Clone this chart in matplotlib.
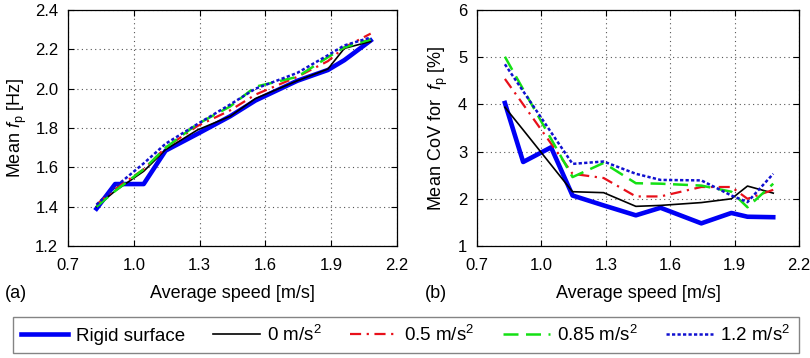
import matplotlib
matplotlib.use("Agg")
import matplotlib.pyplot as plt
import numpy as np

plt.rcParams['font.family'] = ['Liberation Sans', 'DejaVu Sans']
plt.rcParams['mathtext.fontset'] = 'custom'
plt.rcParams['mathtext.rm'] = 'Liberation Sans'
plt.rcParams['mathtext.it'] = 'Liberation Sans:italic'

# Data
speed = [0.83, 0.915, 1.045, 1.145, 1.29, 1.44, 1.555, 1.745, 1.885, 1.96, 2.08]
labels = ['Rigid surface', '0 m/s$^2$', '0.5 m/s$^2$', '0.85 m/s$^2$', '1.2 m/s$^2$']

fp_rigid = [1.39, 1.515, 1.515, 1.685, 1.77, 1.86, 1.94, 2.04, 2.095, 2.145, 2.245]
fp_0 = [1.40, 1.48, 1.58, 1.69, 1.79, 1.86, 1.95, 2.04, 2.10, 2.205, 2.24]
fp_05 = [1.41, 1.49, 1.59, 1.70, 1.81, 1.89, 1.97, 2.06, 2.14, 2.21, 2.28]
fp_085 = [1.40, 1.48, 1.59, 1.70, 1.82, 1.91, 2.01, 2.06, 2.16, 2.21, 2.25]
fp_12 = [1.41, 1.50, 1.62, 1.72, 1.82, 1.92, 2.00, 2.08, 2.17, 2.22, 2.26]

cov_rigid = [4.03, 2.78, 3.09, 2.07, 1.86, 1.65, 1.81, 1.48, 1.70, 1.62, 1.61]
cov_0 = [3.94, 3.46, 2.72, 2.15, 2.13, 1.84, 1.86, 1.92, 2.00, 2.27, 2.12]
cov_05 = [4.54, 4.00, 3.17, 2.53, 2.44, 2.05, 2.05, 2.25, 2.25, 2.00, 2.19]
cov_085 = [5.01, 4.32, 3.27, 2.46, 2.76, 2.33, 2.32, 2.28, 2.15, 1.82, 2.32]
cov_12 = [4.85, 4.28, 3.41, 2.74, 2.79, 2.53, 2.40, 2.39, 2.07, 1.93, 2.53]

xticks = [0.7, 1.0, 1.3, 1.6, 1.9, 2.2]
yticks_a = [1.2, 1.4, 1.6, 1.8, 2.0, 2.2, 2.4]
yticks_b = [1, 2, 3, 4, 5, 6]

styles = [
    dict(color='#0000f5', lw=3.3, ls='-'),
    dict(color='black', lw=1.2, ls='-'),
    dict(color='#e8101a', lw=1.6, ls=(0, (5, 2.5, 1, 2.5))),
    dict(color='#14e014', lw=1.8, ls=(0, (6, 3))),
    dict(color='#1010d0', lw=1.8, ls=(0, (1.3, 0.9))),
]

W, H = 810, 358
fig = plt.figure(figsize=(W / 100, H / 100), dpi=100)
ax1 = fig.add_axes([68 / W, 1 - 246 / H, 329 / W, 236 / H])
ax2 = fig.add_axes([477 / W, 1 - 246 / H, 322 / W, 236 / H])

fs_tick = 12
fs_lab = 13

series_a = [fp_rigid, fp_0, fp_05, fp_085, fp_12]
series_b = [cov_rigid, cov_0, cov_05, cov_085, cov_12]
handles = [None] * 5
for ax, series in ((ax1, series_a), (ax2, series_b)):
    for i in [0, 1, 2, 3, 4]:
        ln, = ax.plot(speed, series[i], **styles[i], label=labels[i],
                      zorder=3 + (0 if i == 0 else 1))
        handles[i] = ln
    ax.set_xlim(0.7, 2.2)
    ax.set_xticks(xticks)
    ax.set_xticklabels([f"{v:.1f}" for v in xticks])
    ax.grid(True, color='#555555', ls=(0, (1, 3)), lw=0.8)
    ax.tick_params(direction='in', top=True, right=True, labelsize=fs_tick,
                   length=4, width=0.8)
    ax.tick_params(axis='x', pad=9)
    ax.tick_params(axis='y', pad=7)
    for s in ax.spines.values():
        s.set_linewidth(0.9)
    ax.set_xlabel('Average speed [m/s]', fontsize=fs_lab, labelpad=8)

ax1.set_ylim(1.2, 2.4)
ax1.set_yticks(yticks_a)
ax1.set_yticklabels([f"{v:.1f}" for v in yticks_a])
ax1.set_ylabel('Mean $f_\\mathrm{p}$ [Hz]', fontsize=fs_lab, labelpad=4)

ax2.set_ylim(1, 6)
ax2.set_yticks(yticks_b)
ax2.set_ylabel('Mean CoV for  $f_\\mathrm{p}$ [%]', fontsize=fs_lab, labelpad=6)

fig.text(5 / W, 1 - 293 / H, '(a)', fontsize=fs_lab, va='center', ha='left')
fig.text(425 / W, 1 - 293 / H, '(b)', fontsize=fs_lab, va='center', ha='left')

leg = fig.legend(handles, labels, loc='center', ncol=5,
                 bbox_to_anchor=(406 / W, 1 - 335 / H),
                 fontsize=13.5, handlelength=2.5, handletextpad=0.4,
                 columnspacing=1.5, frameon=True, fancybox=False,
                 borderpad=0.45, borderaxespad=0)
leg.get_frame().set_edgecolor('#666666')
leg.get_frame().set_linewidth(1.0)

fig.savefig('out.png', dpi=100)
